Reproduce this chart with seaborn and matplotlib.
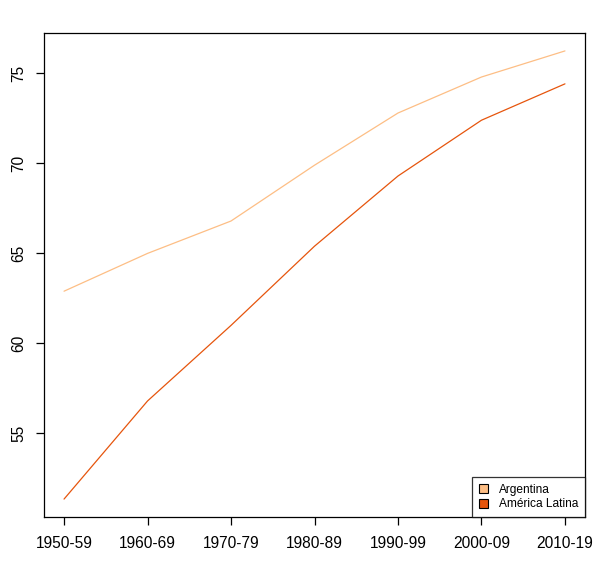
import matplotlib
matplotlib.use("Agg")
import matplotlib.pyplot as plt
from matplotlib.patches import Patch
import seaborn as sns
import pandas as pd

decades = ["1950-59", "1960-69", "1970-79", "1980-89", "1990-99", "2000-09", "2010-19"]
argentina = [62.9, 65.0, 66.8, 69.9, 72.8, 74.8, 76.25]
america_latina = [51.35, 56.8, 61.0, 65.4, 69.3, 72.4, 74.42]
series_names = ["Argentina", "América Latina"]
colors = ["#FDBE85", "#E6550D"]
y_ticks = [55, 60, 65, 70, 75]

df = pd.DataFrame({
    "pos": list(range(len(decades))) * 2,
    "value": argentina + america_latina,
    "serie": [series_names[0]] * len(decades) + [series_names[1]] * len(decades),
})

sns.set_style("white")
plt.rcParams["font.family"] = ["Liberation Sans", "DejaVu Sans"]
plt.rcParams["text.color"] = "black"

W, H = 612, 578
fig = plt.figure(figsize=(W / 100, H / 100), dpi=100)
ax = fig.add_axes([44 / W, 1 - 517 / H, (585 - 44) / W, (517 - 33) / H])

sns.lineplot(data=df, x="pos", y="value", hue="serie", palette=colors,
             hue_order=series_names, ax=ax, linewidth=0.9, legend=False)

n = len(decades)
ax.set_xlim(-0.04 * (n - 1), (n - 1) * 1.04)
vals = argentina + america_latina
rng = max(vals) - min(vals)
ax.set_ylim(min(vals) - 0.04 * rng, max(vals) + 0.04 * rng)

ax.set_xticks(range(n))
ax.set_xticklabels(decades, fontsize=11.2)
ax.set_yticks(y_ticks)
ax.set_yticklabels([str(v) for v in y_ticks], fontsize=11.2, rotation=90, va="center")
ax.tick_params(axis="both", direction="out", length=6, width=0.9, color="black",
               labelcolor="black", bottom=True, left=True)
ax.tick_params(axis="x", pad=8)
ax.tick_params(axis="y", pad=7)
ax.set_xlabel("")
ax.set_ylabel("")
for s in ax.spines.values():
    s.set_visible(True)
    s.set_color("black")
    s.set_linewidth(0.9)

handles = [Patch(facecolor=c, edgecolor="black", linewidth=0.8, label=l)
           for c, l in zip(colors, series_names)]
leg = ax.legend(handles=handles, loc="lower right", bbox_to_anchor=(1, 0),
                borderaxespad=0, fontsize=8.6, frameon=True, fancybox=False,
                handlelength=0.8, handleheight=0.8, handletextpad=0.9,
                borderpad=0.55, labelspacing=0.2)
leg.get_frame().set_edgecolor("black")
leg.get_frame().set_linewidth(0.9)

fig.savefig("out.png", dpi=100)
